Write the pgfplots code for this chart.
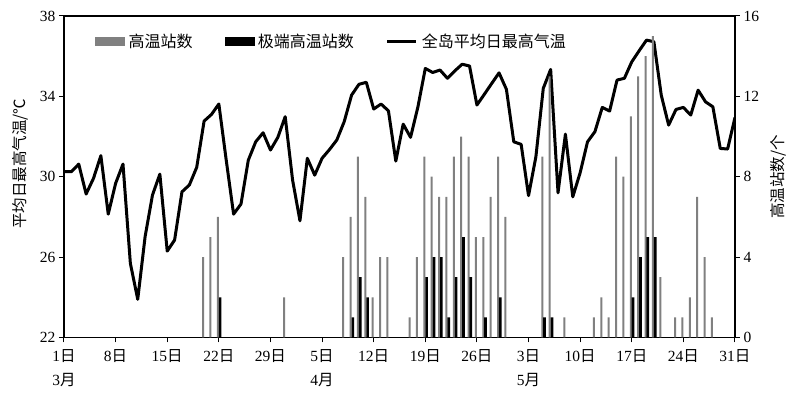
\documentclass[border=0pt]{standalone}
\usepackage{fontspec}
\setmainfont{Liberation Serif}
\newfontfamily\cjk{Noto Sans CJK SC}
\usepackage{pgfplots}
\pgfplotsset{compat=1.18}
\newcommand{\ri}[1]{#1{\cjk 日}}
\definecolor{bargray}{RGB}{128,128,128}
\begin{document}
\begin{tikzpicture}[font=\fontsize{15.5}{24}\selectfont]
\path[use as bounding box] (-64pt,-60.5pt) rectangle (736pt,337.5pt);
\begin{axis}[
  at={(0pt,0pt)}, anchor=south west,
  scale only axis, width=671pt, height=321.5pt,
  xmin=0, xmax=91, ymin=22, ymax=38,
  axis line style={line width=1.1pt},
  tick style={line width=1pt, black},
  tick align=outside, major tick length=5pt,
  tick pos=left,
  ytick={22,26,30,34,38},
  xtick={0,7,14,21,28,35,42,49,56,63,70,77,84,91},
  xticklabels={{\ri{1}\\3{\cjk 月}},\ri{8},\ri{15},\ri{22},\ri{29},{\ri{5}\\4{\cjk 月}},\ri{12},\ri{19},\ri{26},{\ri{3}\\5{\cjk 月}},\ri{10},\ri{17},\ri{24},\ri{31}},
  xticklabel style={align=center, anchor=north, yshift=-4pt},
  /pgf/number format/assume math mode=true,
  ylabel={\cjk 平均日最高气温/℃},
  every axis y label/.style={at={(axis description cs:-0.0656,0.54)}, rotate=90, anchor=center},
]
\addplot[black, line width=3pt, line join=round] table {
0 30.25
1 30.25
2 30.63
3 29.14
4 29.92
5 31.05
6 28.14
7 29.67
8 30.63
9 25.69
10 23.9
11 27.02
12 29.09
13 30.13
14 26.3
15 26.85
16 29.25
17 29.59
18 30.47
19 32.77
20 33.1
21 33.62
22 30.83
23 28.14
24 28.64
25 30.83
26 31.74
27 32.19
28 31.33
29 31.96
30 32.99
31 29.84
32 27.81
33 30.92
34 30.08
35 30.92
36 31.35
37 31.83
38 32.74
39 34.06
40 34.6
41 34.7
42 33.37
43 33.62
44 33.28
45 30.78
46 32.62
47 31.96
48 33.48
49 35.39
50 35.19
51 35.31
52 34.9
53 35.27
54 35.6
55 35.51
56 33.57
57 34.1
58 34.64
59 35.17
60 34.35
61 31.74
62 31.61
63 29.06
64 31.0
65 34.4
66 35.34
67 29.2
68 32.12
69 29.0
70 30.2
71 31.74
72 32.24
73 33.45
74 33.27
75 34.81
76 34.9
77 35.72
78 36.27
79 36.8
80 36.72
81 34.06
82 32.57
83 33.35
84 33.45
85 33.07
86 34.31
87 33.73
88 33.48
89 31.41
90 31.38
91 32.95
};
\end{axis}
\begin{axis}[
  at={(0pt,0pt)}, anchor=south west,
  scale only axis, width=671pt, height=321.5pt,
  xmin=0, xmax=91, ymin=0, ymax=16,
  axis y line*=right, axis x line=none,
  axis line style={line width=1.1pt},
  tick style={line width=1pt, black},
  tick align=outside, major tick length=5pt,
  ytick={0,4,8,12,16},
  /pgf/number format/assume math mode=true,
  ylabel={\cjk 高温站数/个},
  every axis y label/.style={at={(axis description cs:1.064,0.5)}, rotate=90, anchor=center},
  legend columns=3,
  legend style={draw=none, fill=none, at={(0.0417,0.922)}, anchor=west,
    font=\fontsize{16}{20}\selectfont,
    /tikz/every odd column/.append style={column sep=2pt},
    /tikz/every even column/.append style={column sep=30pt}},
]
\addlegendimage{legend image code/.code={\fill[bargray] (0pt,-4pt) rectangle (29pt,4pt);}}
\addlegendentry{\cjk 高温站数}
\addlegendimage{legend image code/.code={\fill[black] (0pt,-4pt) rectangle (29pt,4pt);}}
\addlegendentry{\cjk 极端高温站数}
\addlegendimage{legend image code/.code={\draw[black, line width=3pt] (0pt,0pt) -- (29pt,0pt);}}
\addlegendentry{\cjk 全岛平均日最高气温}
\addplot[ybar, bar width=2pt, bar shift=-1pt, fill=bargray, draw=none, forget plot] table {
19 4
20 5
21 6
30 2
38 4
39 6
40 9
41 7
42 2
43 4
44 4
47 1
48 4
49 9
50 8
51 7
52 7
53 9
54 10
55 9
56 5
57 5
58 7
59 9
60 6
65 9
66 13
68 1
72 1
73 2
74 1
75 9
76 8
77 11
78 13
79 14
80 15
81 3
83 1
84 1
85 2
86 7
87 4
88 1
};
\addplot[ybar, bar width=2.7pt, bar shift=1.3pt, fill=black, draw=none, forget plot] table {
21 2
39 1
40 3
41 2
49 3
50 4
51 4
52 1
53 3
54 5
55 3
57 1
59 2
65 1
66 1
77 2
78 4
79 5
80 5
};
\end{axis}
\end{tikzpicture}
\end{document}
